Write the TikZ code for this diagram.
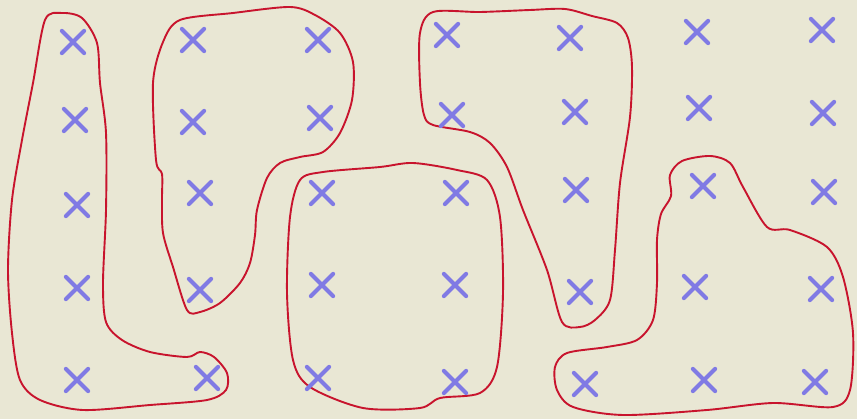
\documentclass[tikz,border=0pt]{standalone}
\usetikzlibrary{shapes.misc}
\definecolor{paper}{RGB}{233,231,212}
\definecolor{inkred}{RGB}{200,20,45}
\definecolor{inkblue}{RGB}{128,122,228}
\tikzset{
  xmark/.style={cross out,draw=inkblue,line width=4.2pt,line cap=round,minimum size=18pt,inner sep=0pt},
  loop/.style={draw=inkred,line width=1.9pt,smooth cycle,tension=0.5}
}
\begin{document}
\begin{tikzpicture}[x=1pt,y=-1pt]
\fill[paper] (0,0) rectangle (857,419);
\useasboundingbox (0,0) rectangle (857,419);
% red loops
\draw[loop] plot coordinates {(45,20) (62,13) (82,18) (97,43) (100,83) (106,133) (106,210) (103,283) (106,322) (122,340) (150,352) (187,357) (200,352) (214,357) (227,373) (226,390) (207,400) (150,405) (83,410) (40,400) (20,380) (12,333) (8,270) (12,200) (22,140) (33,83)};
\draw[loop] plot coordinates {(180,20) (233,13) (290,7) (315,15) (340,33) (353,62) (352,100) (340,133) (323,152) (300,157) (280,163) (267,178) (257,210) (255,235) (250,263) (240,283) (220,303) (200,312) (187,310) (173,267) (163,233) (162,200) (162,174) (156,160) (153,83) (163,42)};
\draw[loop] plot coordinates {(300,180) (323,172) (380,167) (413,163) (457,170) (487,180) (500,217) (503,293) (497,367) (480,393) (440,398) (420,408) (363,408) (310,387) (293,360) (287,293) (290,217)};
\draw[loop] plot coordinates {(433,12) (480,12) (530,10) (565,9) (592,16) (617,23) (628,38) (632,67) (630,117) (620,183) (615,250) (610,300) (595,320) (580,327) (562,322) (547,270) (523,210) (507,167) (490,143) (470,132) (433,125) (424,115) (420,83) (420,33)};
\draw[loop] plot coordinates {(682,161) (710,156) (730,163) (743,187) (767,227) (790,230) (827,247) (843,277) (853,333) (850,390) (833,407) (773,403) (707,410) (623,415) (573,407) (557,390) (555,367) (567,353) (607,347) (637,340) (653,320) (657,283) (657,240) (661,214) (671,196) (670,175)};
% crosses
\node[xmark] (a1) at (73,42) {};
\node[xmark] (a2) at (75,120) {};
\node[xmark] (a3) at (77,205) {};
\node[xmark] (a4) at (77,288) {};
\node[xmark] (a5) at (77,380) {};
\node[xmark] (b1) at (193,40) {};
\node[xmark] (b2) at (193,122) {};
\node[xmark] (b3) at (200,193) {};
\node[xmark] (b4) at (200,290) {};
\node[xmark] (b5) at (207,378) {};
\node[xmark] (c1) at (318,40) {};
\node[xmark] (c2) at (320,118) {};
\node[xmark] (c3) at (322,193) {};
\node[xmark] (c4) at (322,285) {};
\node[xmark] (c5) at (318,378) {};
\node[xmark] (d1) at (447,35) {};
\node[xmark] (d2) at (452,115) {};
\node[xmark] (d3) at (456,193) {};
\node[xmark] (d4) at (455,285) {};
\node[xmark] (d5) at (455,382) {};
\node[xmark] (e1) at (570,38) {};
\node[xmark] (e2) at (575,112) {};
\node[xmark] (e3) at (576,190) {};
\node[xmark] (e4) at (580,292) {};
\node[xmark] (e5) at (585,384) {};
\node[xmark] (f1) at (697,32) {};
\node[xmark] (f2) at (699,108) {};
\node[xmark] (f3) at (703,186) {};
\node[xmark] (f4) at (695,287) {};
\node[xmark] (f5) at (704,380) {};
\node[xmark] (g1) at (822,30) {};
\node[xmark] (g2) at (823,113) {};
\node[xmark] (g3) at (824,192) {};
\node[xmark] (g4) at (821,289) {};
\node[xmark] (g5) at (815,382) {};
\end{tikzpicture}
\end{document}
